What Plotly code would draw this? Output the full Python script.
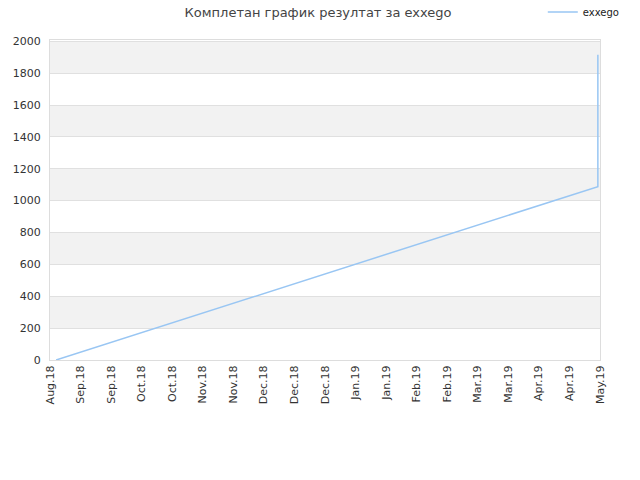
import plotly.graph_objects as go

# tick labels on the x axis (evenly spaced)
x_labels = ["Aug.18", "Sep.18", "Sep.18", "Oct.18", "Oct.18", "Nov.18", "Nov.18",
            "Dec.18", "Dec.18", "Dec.18", "Jan.19", "Jan.19", "Feb.19", "Feb.19",
            "Mar.19", "Mar.19", "Apr.19", "Apr.19", "May.19"]

# series: position along the label index, score
pos = [0.2, 17.93, 17.93]
score = [0, 1088, 1915]

y_ticks = list(range(0, 2001, 200))

fig = go.Figure()
fig.add_trace(go.Scatter(x=pos, y=score, mode="lines", name="exxego",
                         line=dict(color="#99c6f3", width=1.5)))

# alternating grey bands
shapes = []
for i in range(1, len(y_ticks) - 1, 2):
    shapes.append(dict(type="rect", xref="paper", yref="y", x0=0, x1=1,
                       y0=y_ticks[i], y1=y_ticks[i + 1],
                       fillcolor="#f2f2f2", line=dict(width=0), layer="below"))

fig.update_layout(
    width=640, height=480,
    margin=dict(l=50, r=40, t=40, b=120, autoexpand=False),
    paper_bgcolor="white", plot_bgcolor="white",
    font=dict(family="DejaVu Sans", size=11, color="#333"),
    title=dict(text="Комплетан график резултат за exxego", x=0.497, y=1 - 12 / 480,
               xanchor="center", yanchor="middle", font=dict(size=13, color="#444")),
    showlegend=True,
    legend=dict(x=0.896, y=1.0875, xanchor="left", yanchor="middle",
                font=dict(size=10, color="#222"), bgcolor="rgba(0,0,0,0)"),
    shapes=shapes,
    xaxis=dict(range=[0, 18], tickmode="array", tickvals=list(range(len(x_labels))),
               ticktext=x_labels, tickangle=-90, showgrid=False, zeroline=False,
               showline=True, linecolor="#ddd", mirror=True, ticks="", automargin=False),
    yaxis=dict(range=[0, 2008], tickvals=y_ticks, showgrid=True, gridcolor="#e0e0e0",
               zeroline=False, showline=True, linecolor="#ddd", mirror=True, ticks="",
               automargin=False, ticklabelstandoff=6),
)

# drop the default 8px page margin so the figure fills the window
fig.write_html("out.html", config={"displayModeBar": False},
               post_script="document.body.style.margin = '0';")
